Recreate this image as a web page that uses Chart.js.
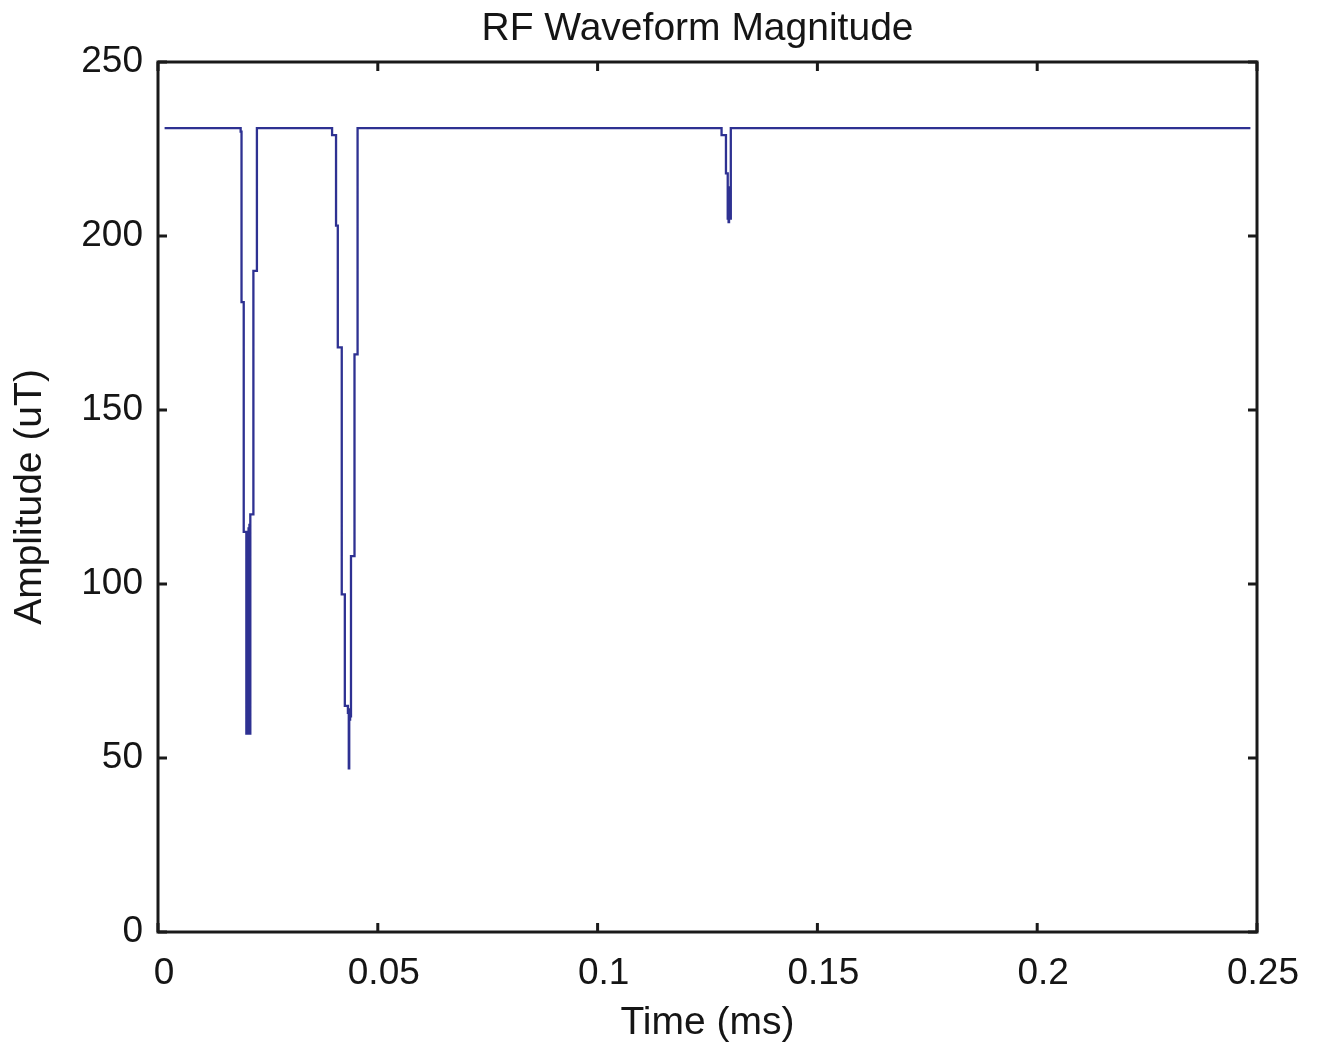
<!DOCTYPE html>
<html>
<head>
<meta charset="utf-8">
<title>RF Waveform Magnitude</title>
<script src="https://cdn.jsdelivr.net/npm/chart.js@4.4.0/dist/chart.umd.min.js"></script>
<style>
  body { margin: 0; background: #fff; }
  #wrap { width: 1321px; height: 1051px; }
</style>
</head>
<body>
<div id="wrap"><canvas id="rfChart" width="1321" height="1051"></canvas></div>
<script>
// Breakpoints of the stepped magnitude trace (time in ms, amplitude in uT)
// each amplitude holds from its time until the next breakpoint
const timeMs = [
    0.0015, 0.0188, 0.0190, 0.0195,
    0.0201, 0.0202, 0.0203, 0.0204, 0.0205, 0.0206, 0.0207, 0.0208, 0.0209,
    0.0210, 0.0217, 0.0225,
    0.0396, 0.0405, 0.0409, 0.0418, 0.0425,
    0.0432, 0.0434, 0.0435, 0.0436, 0.0437, 0.0438,
    0.0439, 0.0447, 0.0454,
    0.1282, 0.1292,
    0.1296, 0.1297, 0.1298, 0.1299, 0.1300, 0.1301, 0.1302,
    0.1303, 0.2485
];
const amplitude = [
    231, 230, 181, 115,
    57, 114, 57, 115, 57, 116, 58, 117, 57,
    120, 190, 231,
    229, 203, 168, 97, 65,
    63, 47, 64, 61, 64, 62,
    108, 166, 231,
    229, 218,
    205, 214, 204, 213, 205, 212, 205,
    231, 231
];
const xTicks = [0, 0.05, 0.1, 0.15, 0.2, 0.25];
const xTickLabels = ['0', '0.05', '0.1', '0.15', '0.2', '0.25'];
const yTicks = [0, 50, 100, 150, 200, 250];
const yTickLabels = ['0', '50', '100', '150', '200', '250'];

const FONT = "'Liberation Sans', Arial, Helvetica, sans-serif";
const TEXT_COLOR = '#151515';
const chartTitle = 'RF Waveform Magnitude';

// Box around the plot with inward ticks on all four sides, plus the title
const boxTicks = {
    id: 'boxTicks',
    afterDraw(chart) {
        const { ctx, chartArea, scales } = chart;
        const { left, right, top, bottom } = chartArea;
        const len = 9;
        ctx.save();
        ctx.strokeStyle = '#1a1a1a';
        ctx.lineWidth = 3;
        ctx.strokeRect(left, top, right - left, bottom - top);
        ctx.beginPath();
        xTicks.forEach(v => {
            const px = scales.x.getPixelForValue(v);
            ctx.moveTo(px, bottom); ctx.lineTo(px, bottom - len);
            ctx.moveTo(px, top); ctx.lineTo(px, top + len);
        });
        yTicks.forEach(v => {
            const py = scales.y.getPixelForValue(v);
            ctx.moveTo(left, py); ctx.lineTo(left + len, py);
            ctx.moveTo(right, py); ctx.lineTo(right - len, py);
        });
        ctx.stroke();

        // title sits a little left of the plot centre, as in the original
        ctx.fillStyle = TEXT_COLOR;
        ctx.font = '39px ' + FONT;
        ctx.textAlign = 'center';
        ctx.textBaseline = 'alphabetic';
        ctx.fillText(chartTitle, (left + right) / 2 - 10, 40);
        ctx.restore();
    }
};

const points = timeMs.map((t, i) => ({ x: t, y: amplitude[i] }));

new Chart(document.getElementById('rfChart').getContext('2d'), {
    type: 'line',
    data: {
        datasets: [{
            data: points,
            borderColor: '#2E3192',
            borderWidth: 2.3,
            pointRadius: 0,
            stepped: true,
            fill: false
        }]
    },
    options: {
        responsive: false,
        animation: false,
        layout: { padding: { left: 0, right: 64, top: 62, bottom: 0 } },
        plugins: {
            legend: { display: false },
            tooltip: { enabled: false },
            title: { display: false }
        },
        scales: {
            x: {
                type: 'linear',
                min: 0,
                max: 0.25,
                grid: { display: false, drawTicks: false },
                border: { display: false },
                afterBuildTicks: s => { s.ticks = xTicks.map(v => ({ value: v })); },
                afterFit: s => { s.height = 119; },
                ticks: {
                    autoSkip: false,
                    maxRotation: 0,
                    padding: 20,
                    labelOffset: 6,
                    color: TEXT_COLOR,
                    font: { family: FONT, size: 37 },
                    callback: (v, i) => xTickLabels[i]
                },
                title: {
                    display: true,
                    text: 'Time (ms)',
                    color: TEXT_COLOR,
                    font: { family: FONT, size: 39 },
                    padding: { top: 0, bottom: 4 }
                }
            },
            y: {
                min: 0,
                max: 250,
                grid: { display: false, drawTicks: false },
                border: { display: false },
                afterBuildTicks: s => { s.ticks = yTicks.map(v => ({ value: v })); },
                afterFit: s => { s.width = 158; },
                ticks: {
                    autoSkip: false,
                    padding: 15,
                    color: TEXT_COLOR,
                    font: { family: FONT, size: 37 },
                    callback: (v, i) => yTickLabels[i]
                },
                title: {
                    display: true,
                    text: 'Amplitude (uT)',
                    color: TEXT_COLOR,
                    font: { family: FONT, size: 39 },
                    padding: 7
                }
            }
        }
    },
    plugins: [boxTicks]
});
</script>
</body>
</html>
